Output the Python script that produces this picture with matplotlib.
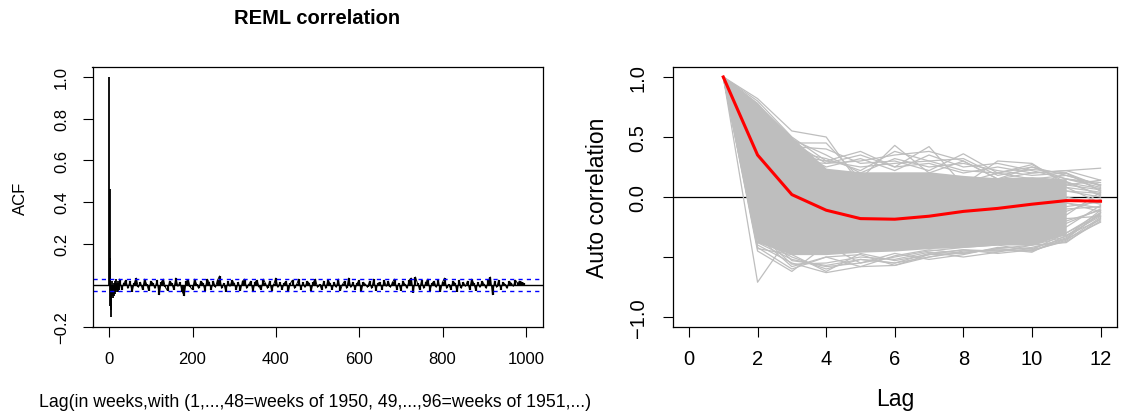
import matplotlib
matplotlib.use("Agg")
import matplotlib.pyplot as plt

plt.rcParams['font.family'] = ['Liberation Sans', 'DejaVu Sans']

# ---------------- Left panel data (REML ACF) ----------------
acf_head_lags = list(range(0, 25))
acf_head = [1.0, 0.46, 0.13, -0.10, -0.15, -0.12, -0.05, 0.02, -0.03, -0.04,
            -0.06, 0.01, -0.05, -0.03, 0.02, -0.04, -0.02, 0.03, -0.03, 0.01,
            -0.02, 0.02, -0.03, 0.01, -0.02]
acf_tail_lags = list(range(25, 1000, 5))
acf_tail = [
    0.03, -0.02, 0.01, 0.025, -0.015, 0.02, -0.03, 0.01, 0.035, -0.01, 0.015, -0.02, 0.03, 0.005, -0.025, 0.02, 0.01, -0.015, 0.025, -0.045,
    0.015, 0.03, -0.01, -0.025, 0.02, 0.01, -0.02, 0.035, -0.005, 0.015, -0.03, -0.05, 0.02, 0.025, -0.01, -0.02, 0.03, 0.005, -0.015, 0.02,
    0.01, -0.025, 0.03, 0.015, -0.02, 0.02, -0.01, 0.025, 0.045, -0.015, 0.01, -0.03, 0.02, -0.005, 0.025, 0.01, -0.02, 0.015, -0.025, 0.02,
    0.03, -0.015, 0.005, 0.02, -0.03, 0.015, 0.025, -0.01, -0.02, 0.03, 0.01, -0.015, 0.02, -0.025, 0.005, 0.035, -0.01, 0.015, -0.02, 0.01,
    0.02, -0.03, 0.01, 0.025, -0.015, 0.005, 0.03, -0.02, 0.015, -0.01, 0.02, 0.01, -0.025, 0.015, 0.03, -0.01, 0.005, -0.02, 0.02, -0.015,
    0.025, 0.01, -0.02, 0.015, -0.01, 0.03, -0.025, 0.005, 0.02, -0.015, 0.035, -0.01, 0.015, -0.02, 0.01, 0.025, -0.03, 0.015, 0.005, -0.01,
    0.02, -0.015, 0.03, -0.025, 0.01, 0.015, -0.02, 0.025, -0.005, 0.02, -0.01, 0.015, 0.03, -0.02, 0.01, -0.025, 0.02, 0.005, -0.015, 0.025,
    0.035, -0.035, 0.04, 0.01, -0.02, 0.025, -0.015, 0.015, 0.03, -0.025, 0.01, 0.02, -0.01, 0.025, -0.03, 0.015, 0.035, -0.015, 0.005, -0.02,
    0.02, 0.01, -0.03, 0.025, -0.015, 0.015, -0.005, 0.02, -0.02, 0.03, 0.01, -0.025, 0.015, -0.01, 0.02, 0.005, -0.015, 0.025, 0.04, -0.045,
    0.02, -0.01, 0.025, -0.02, 0.015, 0.005, -0.015, 0.02, 0.01, -0.005, 0.025, 0.01, 0.02, 0.015, 0.01,
]
conf_band = 0.029
left_xticks = [0, 200, 400, 600, 800, 1000]
left_yticks = [-0.2, 0.2, 0.4, 0.6, 0.8, 1.0]

# ---------------- Right panel data (per-series ACF) ----------------
lags = list(range(1, 13))
mean_acf = [1.0, 0.35, 0.02, -0.11, -0.18, -0.185, -0.16, -0.12, -0.095, -0.06, -0.03, -0.035]
core_lags = list(range(1, 12))
core_upper = [1.0, 0.78, 0.50, 0.24, 0.21, 0.21, 0.21, 0.18, 0.16, 0.17, 0.15]
core_lower = [1.0, -0.38, -0.48, -0.48, -0.46, -0.45, -0.43, -0.42, -0.40, -0.40, -0.31]
series_acf = [
    [1, -0.71, -0.30, -0.35, -0.30, -0.25, -0.20, -0.22, -0.18, -0.15, -0.10, -0.08],
    [1, 0.82, 0.55, 0.50, 0.10, 0.05, 0.00, 0.05, 0.02, 0.00, 0.05, 0.03],
    [1, 0.78, 0.45, 0.45, 0.15, 0.43, 0.20, 0.30, 0.15, 0.20, 0.22, 0.24],
    [1, 0.70, 0.35, 0.30, 0.38, 0.25, 0.42, 0.10, 0.30, 0.28, 0.10, 0.14],
    [1, 0.60, 0.30, 0.28, 0.30, 0.35, 0.38, 0.30, 0.15, 0.25, 0.15, 0.10],
    [1, 0.80, 0.50, 0.30, 0.25, 0.28, 0.30, 0.22, 0.20, 0.25, 0.18, 0.10],
    [1, 0.75, 0.48, 0.35, 0.20, 0.32, 0.25, 0.28, 0.22, 0.18, 0.20, 0.05],
    [1, 0.72, 0.40, 0.25, 0.32, 0.22, 0.35, 0.25, 0.28, 0.22, 0.15, 0.12],
    [1, 0.68, 0.42, 0.40, 0.28, 0.30, 0.22, 0.36, 0.20, 0.27, 0.12, 0.07],
    [1, 0.77, 0.46, 0.28, 0.35, 0.25, 0.28, 0.20, 0.25, 0.20, 0.22, 0.14],
    [1, 0.62, 0.38, 0.32, 0.22, 0.38, 0.30, 0.32, 0.18, 0.23, 0.20, 0.09],
    [1, -0.45, -0.62, -0.40, -0.55, -0.50, -0.45, -0.42, -0.40, -0.45, -0.35, -0.21],
    [1, -0.40, -0.55, -0.63, -0.58, -0.57, -0.48, -0.47, -0.43, -0.40, -0.38, -0.18],
    [1, -0.35, -0.50, -0.60, -0.52, -0.55, -0.47, -0.44, -0.45, -0.44, -0.30, -0.15],
    [1, -0.42, -0.60, -0.50, -0.48, -0.57, -0.50, -0.46, -0.44, -0.45, -0.36, -0.17],
    [1, -0.38, -0.52, -0.58, -0.55, -0.47, -0.52, -0.48, -0.42, -0.43, -0.34, -0.14],
    [1, -0.30, -0.56, -0.55, -0.50, -0.52, -0.46, -0.50, -0.46, -0.40, -0.33, -0.11],
    [1, -0.43, -0.48, -0.62, -0.47, -0.53, -0.48, -0.44, -0.47, -0.44, -0.37, -0.20],
    [1, -0.33, -0.58, -0.50, -0.58, -0.49, -0.44, -0.47, -0.43, -0.46, -0.32, -0.16],
    [1, -0.25, -0.53, -0.57, -0.52, -0.55, -0.50, -0.45, -0.45, -0.42, -0.35, -0.13],
    [1, 0.20, -0.10, -0.20, -0.25, -0.20, -0.15, -0.18, -0.12, -0.10, -0.05, -0.12],
    [1, 0.50, 0.10, -0.05, -0.10, -0.05, 0.00, 0.02, 0.05, 0.08, 0.20, 0.05],
    [1, 0.40, 0.00, -0.10, -0.15, -0.10, -0.05, -0.08, 0.00, 0.02, 0.15, 0.08],
    [1, 0.30, 0.05, 0.00, -0.20, -0.15, -0.10, -0.05, -0.05, 0.00, 0.10, 0.06],
    [1, 0.10, -0.20, -0.30, -0.30, -0.28, -0.25, -0.20, -0.20, -0.25, -0.22, -0.10],
    [1, -0.10, -0.30, -0.35, -0.40, -0.35, -0.30, -0.32, -0.30, -0.28, -0.30, -0.13],
    [1, 0.60, 0.20, 0.10, 0.00, 0.05, 0.10, 0.05, 0.08, 0.12, 0.05, 0.00],
    [1, 0.25, -0.05, -0.15, -0.18, -0.22, -0.20, -0.15, -0.12, -0.15, -0.08, -0.04],
    [1, 0.45, 0.15, 0.05, -0.05, -0.02, 0.05, 0.10, 0.10, 0.05, 0.12, 0.02],
    [1, -0.20, -0.40, -0.45, -0.42, -0.40, -0.38, -0.36, -0.35, -0.38, -0.25, -0.07],
    [1, 0.00, -0.25, -0.25, -0.30, -0.30, -0.22, -0.25, -0.22, -0.20, -0.18, -0.16],
    [1, 0.65, 0.25, 0.15, 0.12, 0.15, 0.18, 0.12, 0.20, 0.15, 0.18, 0.10],
    [1, 0.35, 0.00, -0.05, -0.08, -0.12, -0.08, -0.05, -0.02, -0.05, -0.12, -0.02],
    [1, 0.15, -0.15, -0.25, -0.22, -0.25, -0.18, -0.20, -0.15, -0.18, -0.15, 0.04],
    [1, 0.55, 0.20, 0.00, 0.05, 0.10, 0.02, -0.02, 0.05, 0.10, 0.08, -0.05],
    [1, -0.05, -0.35, -0.45, -0.45, -0.42, -0.40, -0.38, -0.38, -0.35, -0.32, -0.19],
    [1, 0.30, 0.00, -0.10, -0.12, -0.15, -0.10, -0.08, -0.05, -0.08, 0.00, -0.06],
    [1, 0.20, -0.05, -0.15, -0.20, -0.18, -0.15, -0.12, -0.10, -0.10, -0.05, -0.09],
    [1, 0.40, 0.10, 0.00, -0.05, -0.08, -0.05, 0.00, 0.02, 0.05, 0.08, 0.04],
    [1, 0.10, -0.20, -0.25, -0.28, -0.25, -0.22, -0.20, -0.18, -0.20, -0.20, -0.11],
    [1, 0.50, 0.15, 0.05, 0.05, 0.00, 0.05, 0.08, 0.10, 0.10, 0.13, 0.01],
]
right_xticks = [0, 2, 4, 6, 8, 10, 12]
right_yticks = [-1.0, -0.5, 0.0, 0.5, 1.0]
right_yticklabels = ['\u22121.0', '', '0.0', '0.5', '1.0']

W, H = 1126, 414
fig = plt.figure(figsize=(W / 100, H / 100), dpi=100)

def box(x0, y0, x1, y1):
    return [x0 / W, 1 - y1 / H, (x1 - x0) / W, (y1 - y0) / H]

GREY = '#BEBEBE'

# ---------------- Left panel ----------------
ax1 = fig.add_axes(box(92.5, 68, 542.5, 328))
ax1.vlines(acf_head_lags, 0, acf_head, color='black', lw=1.3)
ax1.vlines(acf_tail_lags, 0, acf_tail, color='black', lw=1.6)
ax1.plot(acf_head_lags[-1:] + acf_tail_lags, acf_head[-1:] + acf_tail,
         color='black', lw=0.7)
ax1.axhline(0, color='black', lw=1.0)
ax1.axhline(conf_band, color='blue', lw=1.0, linestyle=(0, (3, 3)))
ax1.axhline(-conf_band, color='blue', lw=1.0, linestyle=(0, (3, 3)))
ax1.set_xlim(-40, 1040)
ax1.set_ylim(-0.2, 1.048)
ax1.set_xticks(left_xticks)
ax1.set_xticklabels([str(v) for v in left_xticks])
ax1.set_yticks(left_yticks)
ax1.set_yticklabels([f'{v:.1f}'.replace('-', '\u2212') for v in left_yticks])
ax1.tick_params(axis='both', labelsize=12, length=7, width=0.8, direction='out')
ax1.tick_params(axis='x', pad=10)
ax1.tick_params(axis='y', pad=10, labelrotation=90)
for lab in ax1.get_yticklabels():
    lab.set_va('center')
for sp in ax1.spines.values():
    sp.set_linewidth(0.9)
fig.text(317.5 / W, 1 - 19 / H, 'REML correlation', ha='center', va='center',
         fontsize=14.5, fontweight='bold')
fig.text(20 / W, 1 - 198 / H, 'ACF', ha='center', va='center', rotation=90, fontsize=12)
fig.text(39 / W, 1 - 403 / H,
         'Lag(in weeks,with (1,...,48=weeks of 1950, 49,...,96=weeks of 1951,...)',
         ha='left', va='center', fontsize=12.7)

# ---------------- Right panel ----------------
ax2 = fig.add_axes(box(672.5, 68, 1117, 328))
ax2.axhline(0, color='black', lw=0.9, zorder=1)
ax2.fill_between(core_lags, core_lower, core_upper, color=GREY, lw=0, zorder=2)
for s in series_acf:
    ax2.plot(lags, s, color=GREY, lw=0.9, zorder=3)
ax2.plot(lags, mean_acf, color='red', lw=2.2, zorder=4)
ax2.set_xlim(-0.48, 12.48)
ax2.set_ylim(-1.083, 1.083)
ax2.set_xticks(right_xticks)
ax2.set_xticklabels([str(v) for v in right_xticks])
ax2.set_yticks(right_yticks)
ax2.set_yticklabels(right_yticklabels)
ax2.tick_params(axis='both', labelsize=14.5, length=7, width=0.8, direction='out')
ax2.tick_params(axis='x', pad=9)
ax2.tick_params(axis='y', pad=11, labelrotation=90)
for lab in ax2.get_yticklabels():
    lab.set_va('center')
for sp in ax2.spines.values():
    sp.set_linewidth(0.9)
fig.text(597.5 / W, 1 - 198 / H, 'Auto correlation', ha='center', va='center',
         rotation=90, fontsize=16.5)
fig.text(895 / W, 1 - 400 / H, 'Lag', ha='center', va='center', fontsize=16.5)

fig.savefig('out.png', dpi=100)
